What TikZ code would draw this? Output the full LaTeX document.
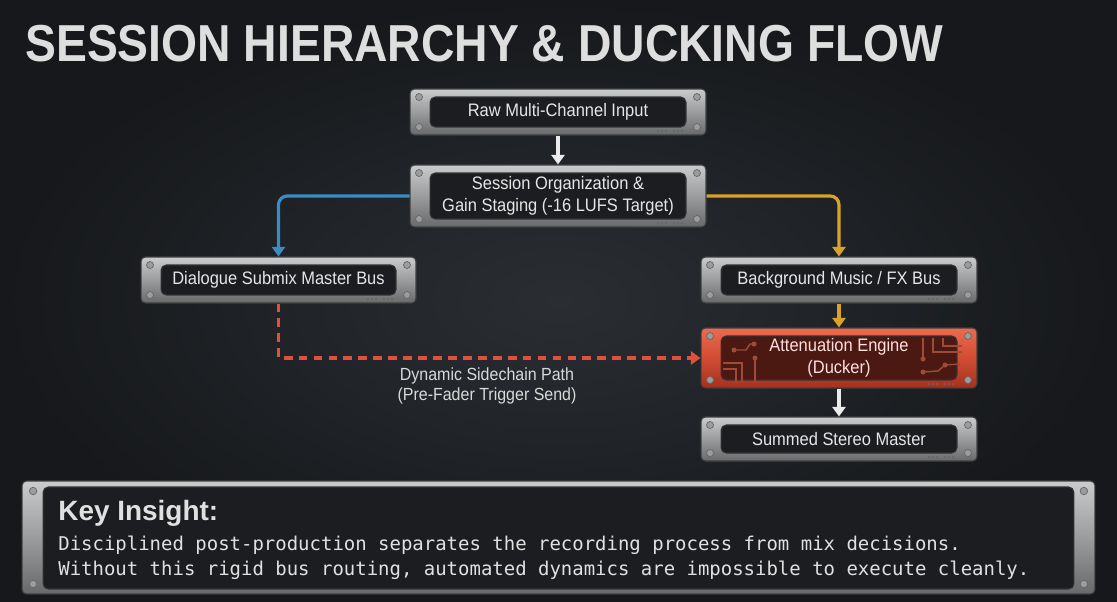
\documentclass[tikz,border=0pt]{standalone}
\usepackage{fontspec}
\setmainfont{Liberation Sans}
\setmonofont{DejaVu Sans Mono}
\newfontfamily\boxfont[FakeStretch=0.91]{Liberation Sans}
\newfontfamily\headfont[FakeStretch=0.89]{Liberation Sans}
\usepackage{tikz}
\usetikzlibrary{arrows.meta}
\definecolor{bgdark}{HTML}{16181B}
\definecolor{bglight}{HTML}{2A2E33}
\definecolor{metalhi}{HTML}{CACBCC}
\definecolor{metalmid}{HTML}{9B9C9E}
\definecolor{metallo}{HTML}{68696B}
\definecolor{panelgray}{HTML}{1C1D20}
\definecolor{redhi}{HTML}{EB6A4E}
\definecolor{redmid}{HTML}{D24C34}
\definecolor{redlo}{HTML}{A5301E}
\definecolor{panelred}{HTML}{4C1912}
\definecolor{circuit}{HTML}{A04A38}
\definecolor{busblue}{HTML}{3A8CC4}
\definecolor{busyellow}{HTML}{D9A32B}
\definecolor{sidered}{HTML}{E0503A}
\definecolor{txtlight}{HTML}{E6E6E6}

\begin{document}
\begin{tikzpicture}[x=0.02cm,y=-0.02cm,
   screw/.style={fill=metalmid,draw=black!60,line width=0.4pt},
   plate/.style={rectangle,rounded corners=2.5pt,inner sep=0pt,draw=black!75,line width=0.6pt,
     top color=metalhi,bottom color=metallo,middle color=metalmid,
     text=txtlight,font=\boxfont\fontsize{10.3pt}{12.6pt}\selectfont,align=center,
     path picture={
       \fill[#1,rounded corners=3pt,draw=black!80] ([shift={(20,8)}]path picture bounding box.north west)
          rectangle ([shift={(-20,-8)}]path picture bounding box.south east);
       \foreach \sx/\sy/\an in {9/8/north west,-9/8/north east,9/-8/south west,-9/-8/south east}
          \filldraw[screw] ([shift={(\sx,\sy)}]path picture bounding box.\an) circle (0.07cm);
       \foreach \d in {-48,-44,-40,-32,-28,-24}
          \fill[black!60] ([shift={(\d,-4)}]path picture bounding box.south east) circle (0.022cm);}},
   plate/.default=panelgray,
   redplate/.style={plate=panelred,top color=redhi,bottom color=redlo,middle color=redmid,
     text=white!88!red},
   wire/.style={line width=1.8pt,-{Triangle[length=5.5pt,width=7.5pt]}},
   feed/.style={wire,white!92!black,line width=2pt},
   trace/.style={circuit,line width=0.8pt},
   dot/.style={fill=circuit}]
\useasboundingbox (0,0) rectangle (1117,602);
\shade[inner color=bglight,outer color=bgdark] (0,0) rectangle (1117,602);
% title
\node[anchor=base west,inner sep=0pt,text=white!87!black,
   font=\headfont\bfseries\fontsize{29.6pt}{32pt}\selectfont] (title) at (25,61)
   {SESSION HIERARCHY \& DUCKING FLOW};
% the plates
\node[plate,minimum width=5.92cm,minimum height=0.92cm] (raw) at (558,112) {Raw Multi-Channel Input};
\node[plate,minimum width=5.92cm,minimum height=1.24cm] (session) at (558,196)
   {Session Organization \&\\Gain Staging (-16 LUFS Target)};
\node[plate,minimum width=5.5cm,minimum height=0.92cm] (dialog) at (278.5,280) {Dialogue Submix Master Bus};
\node[plate,minimum width=5.52cm,minimum height=0.92cm] (bgfx) at (839,280) {Background Music / FX Bus};
\node[redplate,minimum width=5.52cm,minimum height=1.2cm] (atten) at (839,358)
   {Attenuation Engine\\(Ducker)};
\node[plate,minimum width=5.52cm,minimum height=0.88cm] (summed) at (839,439) {Summed Stereo Master};
% circuit traces on the ducker
\draw[trace] (734,350) -- (746,350) -- (750,344) -- (754,344);
\fill[dot] (734,350) circle (0.05cm) (754,344) circle (0.05cm) (755,358) circle (0.05cm);
\draw[trace] (755,358) -- (755,382);
\draw[trace] (723,363) -- (742,363) -- (742,382);
\draw[trace] (723,369) -- (736,369) -- (736,382);
\draw[trace] (923,338) -- (923,359);
\draw[trace] (933,338) -- (933,352) -- (962,352);
\draw[trace] (943,338) -- (943,346) -- (962,346);
\draw[trace] (923,372) -- (938,371) -- (945,365) -- (960,364);
\fill[dot] (923,359) circle (0.05cm) (923,372) circle (0.05cm) (945,365) circle (0.05cm);
% connectors
\draw[feed] (raw) -- (session);
\draw[wire,busblue,rounded corners=5pt] (session.west) -| (dialog.north);
\draw[wire,busyellow,rounded corners=5pt] (session.east) -| (bgfx.north);
\draw[wire,busyellow] (bgfx) -- (atten);
\draw[feed] (atten) -- (summed);
\draw[wire,sidered,dash pattern=on 5pt off 3.5pt] (dialog.south) |- (atten.west);
\node[align=center,text=white!85!black,font=\boxfont\fontsize{10pt}{11.4pt}\selectfont] (sidechain)
   at (487,386) {Dynamic Sidechain Path\\(Pre-Fader Trigger Send)};
% key insight plate
\node[rectangle,rounded corners=2.5pt,draw=black!75,line width=0.6pt,
   top color=metalhi,bottom color=metallo,middle color=metalmid,
   minimum width=21.46cm,minimum height=2.26cm,
   path picture={
     \fill[panelgray,rounded corners=3pt,draw=black!80] ([shift={(21,6)}]path picture bounding box.north west)
        rectangle ([shift={(-21,-5)}]path picture bounding box.south east);
     \foreach \sx/\sy/\an in {11/10/north west,-11/10/north east,11/-10/south west,-11/-10/south east}
        \filldraw[screw] ([shift={(\sx,\sy)}]path picture bounding box.\an) circle (0.075cm);}]
   (insight) at (558.5,537.5) {};
\node[anchor=base west,inner sep=0pt,text=white!88!black,font=\bfseries\fontsize{15.9pt}{18pt}\selectfont]
   (keyhead) at (58,520) {Key Insight:};
\node[anchor=base west,inner sep=0pt,text=white!88!black,font=\ttfamily\fontsize{10.8pt}{12pt}\selectfont]
   (keyline1) at (58,550) {Disciplined post-production separates the recording process from mix decisions.};
\node[anchor=base west,inner sep=0pt,text=white!88!black,font=\ttfamily\fontsize{10.8pt}{12pt}\selectfont]
   (keyline2) at (58,575) {Without this rigid bus routing, automated dynamics are impossible to execute cleanly.};
\end{tikzpicture}
\end{document}
